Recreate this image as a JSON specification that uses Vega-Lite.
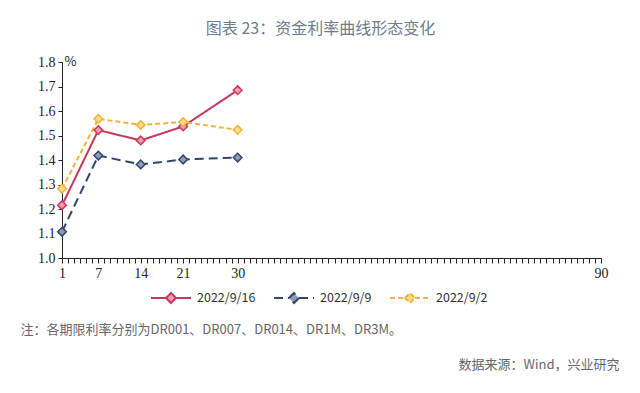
{
  "$schema": "https://vega.github.io/schema/vega-lite/v6.json",
  "width": 539,
  "height": 196,
  "autosize": {"type": "none"},
  "padding": {"left": 62, "top": 62, "right": 39, "bottom": 135},
  "background": "white",
  "title": {
    "text": "图表 23：资金利率曲线形态变化",
    "font": "Noto Sans CJK SC",
    "fontSize": 16,
    "fontWeight": "normal",
    "color": "#6f7c8c",
    "anchor": "middle",
    "dx": -11,
    "offset": 18
  },
  "config": {
    "view": {"stroke": null},
    "axis": {"grid": false, "domainColor": "#222", "tickColor": "#222", "labelColor": "#222", "labelFont": "Liberation Serif", "labelFontSize": 14}
  },
  "data": {
    "values": [
      {"series": "2022/9/16", "tenor": 1, "rate": 1.215},
      {"series": "2022/9/16", "tenor": 7, "rate": 1.522},
      {"series": "2022/9/16", "tenor": 14, "rate": 1.48},
      {"series": "2022/9/16", "tenor": 21, "rate": 1.537},
      {"series": "2022/9/16", "tenor": 30, "rate": 1.685},
      {"series": "2022/9/9", "tenor": 1, "rate": 1.107},
      {"series": "2022/9/9", "tenor": 7, "rate": 1.418},
      {"series": "2022/9/9", "tenor": 14, "rate": 1.382},
      {"series": "2022/9/9", "tenor": 21, "rate": 1.402},
      {"series": "2022/9/9", "tenor": 30, "rate": 1.41},
      {"series": "2022/9/2", "tenor": 1, "rate": 1.283},
      {"series": "2022/9/2", "tenor": 7, "rate": 1.568},
      {"series": "2022/9/2", "tenor": 14, "rate": 1.543},
      {"series": "2022/9/2", "tenor": 21, "rate": 1.555},
      {"series": "2022/9/2", "tenor": 30, "rate": 1.523}
    ]
  },
  "layer": [
    {
      "mark": {"type": "line", "strokeWidth": 2},
      "encoding": {
        "x": {
          "field": "tenor", "type": "quantitative",
          "scale": {"domain": [1, 90], "nice": false, "zero": false},
          "axis": {
            "values": [1,2,3,4,5,6,7,8,9,10,11,12,13,14,15,16,17,18,19,20,21,22,23,24,25,26,27,28,29,30,31,32,33,34,35,36,37,38,39,40,41,42,43,44,45,46,47,48,49,50,51,52,53,54,55,56,57,58,59,60,61,62,63,64,65,66,67,68,69,70,71,72,73,74,75,76,77,78,79,80,81,82,83,84,85,86,87,88,89,90],
            "tickCount": 200,
            "format": "d",
            "labelExpr": "indexof([1,7,14,21,30,90], datum.value) >= 0 ? datum.label : ''",
            "labelOverlap": false,
            "labelFlush": false,
            "tickSize": 5,
            "labelPadding": 3,
            "title": "注：各期限利率分别为DR001、DR007、DR014、DR1M、DR3M。",
            "titleFont": "Noto Sans CJK SC",
            "titleFontSize": 13,
            "titleFontWeight": "normal",
            "titleColor": "#666",
            "titleAnchor": "start",
            "titleAlign": "left",
            "titleBaseline": "middle",
            "titleX": -42,
            "titleY": 71
          }
        },
        "y": {
          "field": "rate", "type": "quantitative",
          "scale": {"domain": [1.0, 1.8], "nice": false, "zero": false},
          "axis": {
            "values": [1.0, 1.1, 1.2, 1.3, 1.4, 1.5, 1.6, 1.7, 1.8],
            "format": ".1f",
            "tickSize": 4,
            "labelPadding": 3,
            "title": "%",
            "titleAngle": 0,
            "titleFont": "Noto Sans CJK SC",
            "titleFontSize": 13,
            "titleFontWeight": "normal",
            "titleColor": "#222",
            "titleAlign": "left",
            "titleBaseline": "middle",
            "titleX": 2,
            "titleY": -1
          }
        },
        "color": {
          "field": "series", "type": "nominal",
          "sort": ["2022/9/16", "2022/9/9", "2022/9/2"],
          "scale": {"domain": ["2022/9/16", "2022/9/9", "2022/9/2"], "range": ["#c8375a", "#34446a", "#f0b338"]},
          "legend": {
            "orient": "none",
            "direction": "horizontal",
            "legendX": 88,
            "legendY": 215,
            "title": null,
            "symbolType": "M-1,0L-0.25,0M0.25,0L1,0M-0.25,0L0,-0.25L0.25,0L0,0.25Z",
            "symbolSize": 1600,
            "symbolStrokeWidth": 2,
            "labelFont": "Noto Sans CJK SC",
            "labelFontSize": 12.5,
            "labelColor": "#333",
            "columnPadding": 14,
            "labelOffset": 5
          }
        },
        "strokeDash": {
          "field": "series", "type": "nominal",
          "scale": {"domain": ["2022/9/16", "2022/9/9", "2022/9/2"], "range": [[1, 0], [9, 5], [5, 3]]},
          "legend": null
        }
      }
    },
    {
      "mark": {"type": "point", "shape": "diamond", "filled": false, "size": 75, "strokeWidth": 1.5, "opacity": 1},
      "encoding": {
        "x": {"field": "tenor", "type": "quantitative", "scale": {"domain": [1, 90], "nice": false, "zero": false}},
        "y": {
          "field": "rate", "type": "quantitative",
          "scale": {"domain": [1.0, 1.8], "nice": false, "zero": false},
          "axis": {
            "orient": "right",
            "domain": false, "ticks": false, "labels": false,
            "title": "数据来源：Wind，兴业研究",
            "titleAngle": 0,
            "titleFont": "Noto Sans CJK SC",
            "titleFontSize": 13,
            "titleFontWeight": "normal",
            "titleColor": "#666",
            "titleAlign": "right",
            "titleBaseline": "middle",
            "titleX": 18,
            "titleY": 302
          }
        },
        "color": {"field": "series", "type": "nominal"},
        "fill": {
          "field": "series", "type": "nominal",
          "scale": {"domain": ["2022/9/16", "2022/9/9", "2022/9/2"], "range": ["#f39cb0", "#8d9ab8", "#fbd98a"]},
          "legend": null
        }
      }
    }
  ],
  "resolve": {"scale": {"y": "independent"}}
}
